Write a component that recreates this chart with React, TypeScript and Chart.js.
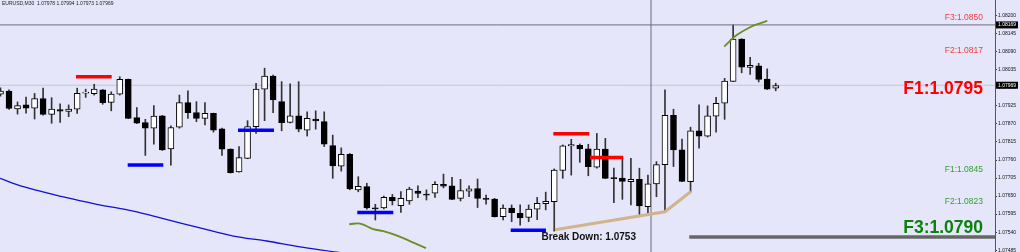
import React, { useEffect, useRef } from "react";
import { Chart, registerables } from "chart.js";
Chart.register(...registerables);

// ---- candle data (EURUSD M30) ----
const opens = [1.07961,1.0797,1.07916,1.07928,1.07918,1.07947,1.07899,1.07914,1.07908,1.07915,1.07964,1.07962,1.07974,1.07936,1.07961,1.08006,1.07889,1.07874,1.07857,1.07895,1.07794,1.0786,1.07935,1.07905,1.07887,1.07902,1.07855,1.07793,1.07724,1.07765,1.07862,1.07976,1.08016,1.07938,1.07875,1.07895,1.07851,1.07885,1.07877,1.07804,1.07741,1.07777,1.07669,1.07679,1.07614,1.07614,1.07646,1.07621,1.07635,1.07665,1.07656,1.07659,1.07686,1.07681,1.07643,1.07665,1.07673,1.07643,1.07641,1.07587,1.07613,1.07597,1.07585,1.0761,1.07627,1.07633,1.07728,1.07803,1.07805,1.07794,1.07738,1.07793,1.07706,1.07705,1.07694,1.07701,1.07618,1.07687,1.07746,1.07896,1.07791,1.07694,1.07849,1.07833,1.07894,1.07933,1.08,1.08129,1.08042,1.08047,1.08007,1.07979];
const highs = [1.0798,1.07974,1.07937,1.07952,1.07963,1.07979,1.0795,1.07931,1.07928,1.07979,1.07976,1.07991,1.07975,1.07968,1.08014,1.08007,1.0792,1.07884,1.07926,1.07896,1.07864,1.07958,1.07971,1.07938,1.07935,1.07903,1.07857,1.07794,1.07801,1.0788,1.07994,1.0804,1.08019,1.07999,1.07992,1.07999,1.07907,1.0791,1.07907,1.07836,1.07797,1.0778,1.07709,1.07689,1.07625,1.0765,1.07655,1.07664,1.07677,1.07681,1.07669,1.07694,1.07717,1.07707,1.07701,1.07681,1.07702,1.07653,1.07643,1.07623,1.07623,1.07623,1.07623,1.07646,1.07662,1.07733,1.07806,1.07823,1.07809,1.07808,1.07841,1.07826,1.07735,1.07767,1.07765,1.07735,1.07714,1.07755,1.07974,1.07915,1.07824,1.0786,1.07928,1.07925,1.07951,1.08009,1.08172,1.0813,1.08073,1.08055,1.08038,1.07994];
const lows = [1.07955,1.07914,1.079,1.07903,1.07885,1.07897,1.07872,1.07875,1.07892,1.07902,1.07951,1.07958,1.0793,1.0791,1.07958,1.07886,1.07871,1.07774,1.07808,1.07789,1.07744,1.07857,1.07887,1.07877,1.07867,1.07845,1.07774,1.0772,1.07723,1.07764,1.07841,1.0788,1.07904,1.07849,1.07873,1.07846,1.07833,1.07854,1.07801,1.07704,1.07726,1.07669,1.07663,1.0761,1.07577,1.07611,1.07623,1.076,1.07625,1.07645,1.07638,1.07646,1.07675,1.07639,1.07635,1.07648,1.07615,1.07625,1.07586,1.07577,1.07572,1.07561,1.07572,1.07578,1.07608,1.07543,1.07704,1.07714,1.07753,1.07712,1.07735,1.07703,1.0763,1.0764,1.07623,1.07587,1.07595,1.07648,1.07602,1.0774,1.07694,1.07663,1.07796,1.0783,1.07845,1.07884,1.07999,1.08026,1.08021,1.07998,1.07975,1.07971];
const closes = [1.0797,1.07917,1.07926,1.07918,1.07947,1.07899,1.07915,1.07909,1.07915,1.07963,1.07967,1.07976,1.07935,1.07961,1.08006,1.07887,1.07872,1.07857,1.07894,1.07791,1.07859,1.07935,1.07904,1.07887,1.07902,1.07851,1.07793,1.07721,1.07767,1.07862,1.07976,1.08016,1.07943,1.07874,1.07895,1.07854,1.07887,1.07879,1.07808,1.07742,1.07777,1.07672,1.0768,1.07614,1.07611,1.07646,1.07635,1.07643,1.07671,1.07658,1.07653,1.07686,1.0768,1.0764,1.07667,1.07672,1.07643,1.0764,1.07587,1.07613,1.07599,1.07583,1.0761,1.07628,1.07634,1.07729,1.07803,1.07807,1.07794,1.0774,1.07793,1.07704,1.07703,1.07695,1.07701,1.0762,1.07687,1.07746,1.07896,1.07791,1.07695,1.07849,1.07833,1.07895,1.07933,1.08001,1.08129,1.08043,1.08049,1.08006,1.07976,1.07987];

// moving average (blue)
const maX = [-0.06, 2.68, 7.77, 11.29, 15.59, 19.11, 23.42, 27.33, 31.25, 35.16, 39.47, 43.5];
const maY = [1.07704, 1.07679, 1.07645, 1.07625, 1.07604, 1.07581, 1.07553, 1.07528, 1.07513, 1.07495, 1.07479, 1.07462];
// green arcs
const arcLowX = [40.94, 42.2, 43.76, 44.94, 46.7, 48.46, 49.95];
const arcLowY = [1.07564, 1.07566, 1.07549, 1.07543, 1.07528, 1.07508, 1.07491];
const arcTopX = [84.96, 86.42, 87.98, 89.15, 90.01];
const arcTopY = [1.08106, 1.08141, 1.08165, 1.08177, 1.08184];
// tan trend line
const trendX = [65.09, 78.0, 81.05];
const trendY = [1.07547, 1.07602, 1.07664];
// resistance (red) / support (blue) marks
const redStart = [8.86, 64.89, 69.2];
const redEnd = [13.05, 69.12, 73.1];
const redLevel = [1.08014, 1.0784, 1.07768];
const blueStart = [14.93, 27.88, 41.88, 59.89];
const blueEnd = [19.11, 32.1, 46.11, 64.03];
const blueLevel = [1.07745, 1.07851, 1.076, 1.07546];
// other levels
const floorStart = 80.85;
const floorLevel = 1.07525;
const crossX = 76.36;
const crossPrice = 1.08172;
const bidPrice = 1.07988;
const crossLabel = "1.08169";
const bidLabel = "1.07969";
// axis
const yTicks = [1.07485, 1.0754, 1.07595, 1.0765, 1.07705, 1.0776, 1.07815, 1.0787, 1.07925, 1.0798, 1.08035, 1.0809, 1.08145, 1.082];
const Y_MIN = 1.074794;
const Y_MAX = 1.08248;
const X_MIN = -0.0587;
const X_MAX = 116.74;
// text
const titleText = "EURUSD,M30  1.07978 1.07994 1.07973 1.07969";
const levelTexts = ["F3:1.0850", "F2:1.0817", "F1:1.0795", "F1:1.0845", "F2:1.0823", "F3:1.0790"];
const levelPrices = [1.08193, 1.08094, 1.07977, 1.07732, 1.07633, 1.07553];
const breakText = "Break Down: 1.0753";
const breakX = 63.5;
const breakPrice = 1.07525;

const FAM = '"Liberation Sans", Arial, sans-serif';
const levelStyles = [
  { color: "#f23c3c", font: `8.5px ${FAM}` },
  { color: "#f23c3c", font: `8.5px ${FAM}` },
  { color: "#ff0000", font: `bold 17.5px ${FAM}` },
  { color: "#2f9f2f", font: `8.5px ${FAM}` },
  { color: "#2f9f2f", font: `8.5px ${FAM}` },
  { color: "#0a820a", font: `bold 17.5px ${FAM}` },
];

const lineDs = (data: any[], color: string, width: number, extra: any = {}) => ({
  type: "line" as const,
  data,
  borderColor: color,
  borderWidth: width,
  pointRadius: 0,
  pointHoverRadius: 0,
  fill: false,
  order: 0,
  ...extra,
});

export default function App() {
  const ref = useRef<HTMLCanvasElement | null>(null);
  useEffect(() => {
    document.body.style.margin = "0";
    const idx = opens.map((_, i) => i);
    const bodyColors = idx.map((i) => (closes[i] > opens[i] ? "#ffffff" : "#000000"));
    const datasets: any[] = [
      {
        type: "bar",
        data: idx.map((i) => ({ x: i, y: [lows[i], highs[i]] })),
        backgroundColor: "#333333",
        borderWidth: 0,
        barThickness: 1,
        grouped: false,
        order: 3,
      },
      {
        type: "bar",
        data: idx.map((i) => ({ x: i, y: [opens[i], closes[i]] })),
        backgroundColor: bodyColors,
        borderColor: "#000000",
        borderWidth: 1,
        borderSkipped: false,
        barThickness: 6,
        grouped: false,
        order: 2,
      },
      lineDs([{ x: X_MIN, y: bidPrice }, { x: X_MAX, y: bidPrice }], "#c6c6d4", 1, { order: 5 }),
      lineDs(maX.map((x, k) => ({ x, y: maY[k] })), "#1010d0", 1.3, { tension: 0.3 }),
      lineDs(arcLowX.map((x, k) => ({ x, y: arcLowY[k] })), "#6b8e23", 1.8, { tension: 0.4 }),
      lineDs(arcTopX.map((x, k) => ({ x, y: arcTopY[k] })), "#6b8e23", 1.8, { tension: 0.4 }),
      lineDs(trendX.map((x, k) => ({ x, y: trendY[k] })), "#d2b48c", 3),
      lineDs([{ x: floorStart, y: floorLevel }, { x: X_MAX, y: floorLevel }], "#666666", 3.5),
      lineDs([{ x: X_MIN, y: crossPrice }, { x: X_MAX, y: crossPrice }], "#6c6c7c", 1),
      lineDs([{ x: crossX, y: Y_MIN }, { x: crossX, y: Y_MAX }], "#6c6c7c", 1),
    ];
    redStart.forEach((s, k) =>
      datasets.push(lineDs([{ x: s, y: redLevel[k] }, { x: redEnd[k], y: redLevel[k] }], "#ff0000", 3.5))
    );
    blueStart.forEach((s, k) =>
      datasets.push(lineDs([{ x: s, y: blueLevel[k] }, { x: blueEnd[k], y: blueLevel[k] }], "#0000ff", 3.5))
    );

    const bg = {
      id: "bg",
      beforeDraw(c: any) {
        const ctx = c.ctx;
        ctx.save();
        ctx.fillStyle = "#E6E6FA";
        ctx.fillRect(0, 0, c.width, c.height);
        ctx.restore();
      },
    };
    const texts = {
      id: "texts",
      afterDraw(c: any) {
        const ctx = c.ctx;
        const ys = c.scales.y;
        const xs = c.scales.x;
        const area = c.chartArea;
        ctx.save();
        // title
        ctx.fillStyle = "#222";
        ctx.font = `5px ${FAM}`;
        ctx.textAlign = "left";
        ctx.textBaseline = "top";
        ctx.fillText(titleText, 2, 1.5);
        // level labels
        ctx.textAlign = "right";
        ctx.textBaseline = "middle";
        levelTexts.forEach((t, k) => {
          ctx.fillStyle = levelStyles[k].color;
          ctx.font = levelStyles[k].font;
          ctx.fillText(t, area.right - 12, ys.getPixelForValue(levelPrices[k]));
        });
        // break down
        ctx.textAlign = "left";
        ctx.fillStyle = "#111";
        ctx.font = `bold 10px ${FAM}`;
        ctx.fillText(breakText, xs.getPixelForValue(breakX), ys.getPixelForValue(breakPrice));
        // axis price boxes
        const box = (price: number, label: string) => {
          const y = ys.getPixelForValue(price);
          ctx.fillStyle = "#000";
          ctx.fillRect(area.right + 1, y - 3.5, 22, 7);
          ctx.fillStyle = "#fff";
          ctx.font = `5px ${FAM}`;
          ctx.textAlign = "left";
          ctx.textBaseline = "middle";
          ctx.fillText(label, area.right + 3, y);
        };
        box(crossPrice, crossLabel);
        box(bidPrice, bidLabel);
        ctx.restore();
      },
    };

    const chart = new Chart(ref.current as HTMLCanvasElement, {
      type: "bar",
      data: { datasets },
      options: {
        animation: false,
        responsive: true,
        maintainAspectRatio: false,
        devicePixelRatio: 1,
        layout: { padding: 0 },
        plugins: { legend: { display: false }, tooltip: { enabled: false } },
        scales: {
          x: {
            type: "linear",
            display: false,
            min: X_MIN,
            max: X_MAX,
            offset: false,
            grid: { offset: false },
          },
          y: {
            type: "linear",
            position: "right",
            min: Y_MIN,
            max: Y_MAX,
            afterBuildTicks: (s: any) => {
              s.ticks = yTicks.map((v) => ({ value: v }));
            },
            afterFit: (s: any) => {
              s.width = 25;
              s.paddingTop = 0;
              s.paddingBottom = 0;
            },
            ticks: {
              autoSkip: false,
              padding: 1,
              color: "#111",
              font: { size: 5, family: FAM },
              callback: (v: any) => Number(v).toFixed(5),
            },
            grid: { drawOnChartArea: false, drawTicks: true, tickLength: 2, color: "#444" },
            border: { color: "#555" },
          },
        },
      } as any,
      plugins: [bg, texts],
    } as any);
    return () => chart.destroy();
  }, []);
  return (
    <div style={{ width: 1020, height: 252, position: "relative" }}>
      <canvas ref={ref} style={{ display: "block" }} />
    </div>
  );
}
